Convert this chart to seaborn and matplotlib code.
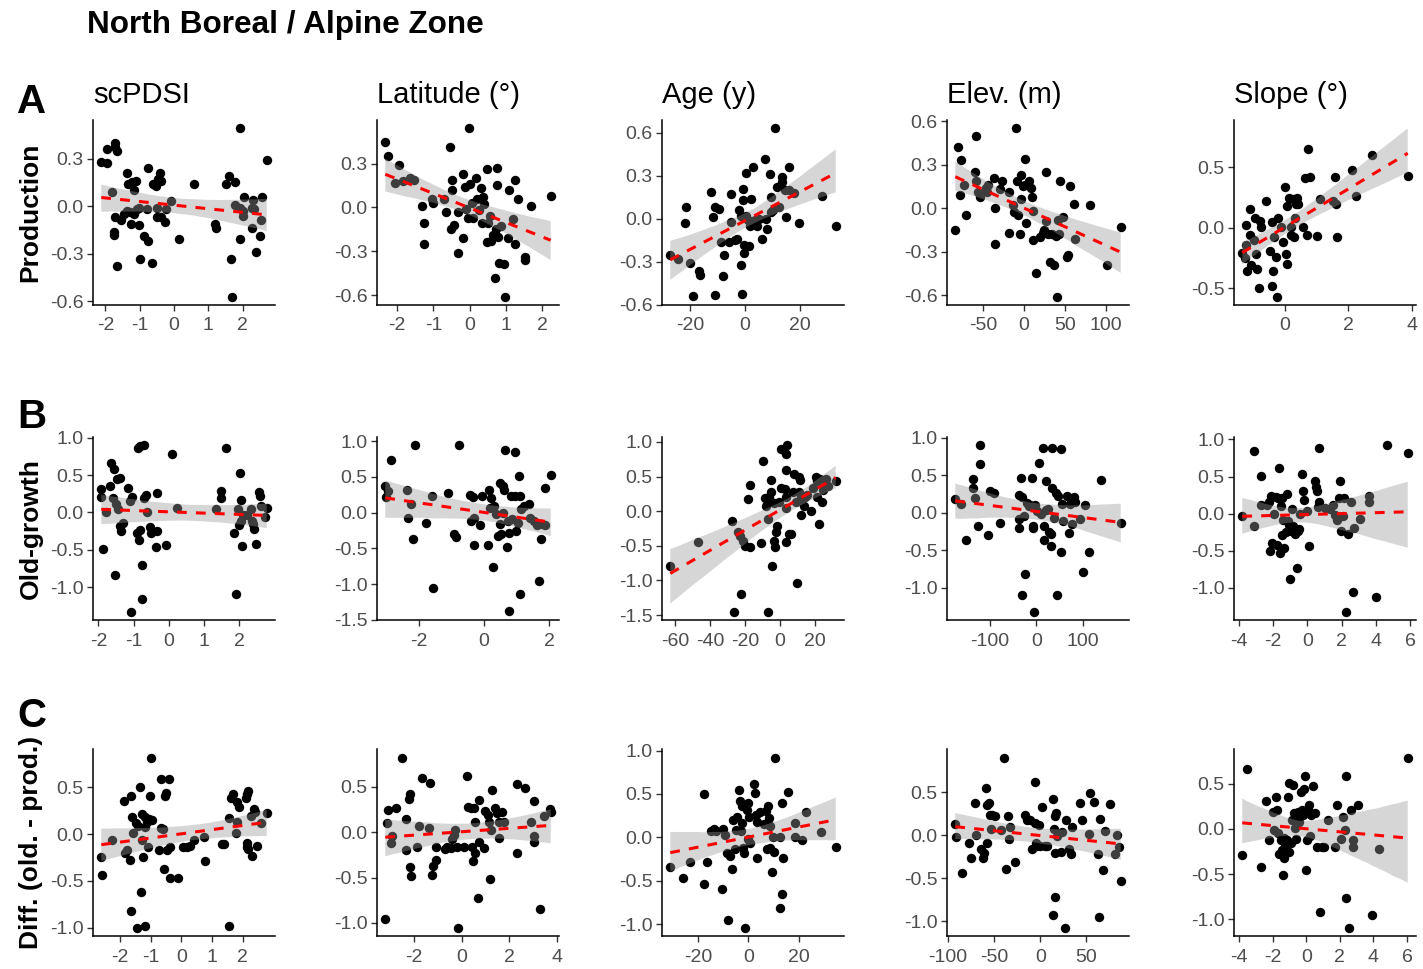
import sys
import numpy as np
import pandas as pd
import matplotlib
matplotlib.use("Agg")
import matplotlib.pyplot as plt
import seaborn as sns

# ------------------------------------------------------------------ data
# Row A: Production
prod_pdsi_x = [-2.12,-1.94,-1.96,-1.72,-1.71,-1.67,-1.80,-1.73,-1.75,-1.76,-1.67,-1.54,-1.47,-1.38,-1.33,-1.22,-1.10,-1.17,-1.38,-1.28,-1.25,-1.17,-1.01,-1.07,-1.01,-0.98,-0.88,-0.77,-0.80,-0.75,-0.64,-0.61,-0.54,-0.46,-0.41,-0.37,-0.51,-0.38,-0.49,-0.27,-0.22,-0.08,0.15,0.59,1.18,1.22,1.50,1.61,1.65,1.68,1.78,1.78,1.91,1.92,1.92,2.00,2.00,2.03,2.26,2.31,2.34,2.40,2.49,2.52,2.56,2.70,2.28]
prod_pdsi_y = [0.28,0.27,0.36,0.40,0.37,0.35,0.09,-0.07,-0.16,-0.18,-0.38,-0.09,-0.05,0.21,0.14,0.15,0.16,0.10,-0.03,-0.04,-0.11,-0.05,-0.01,-0.02,-0.12,-0.33,-0.19,-0.22,-0.02,0.24,-0.36,0.14,0.13,0.17,0.21,0.16,-0.07,-0.07,-0.01,-0.10,-0.02,0.03,-0.21,0.14,-0.11,-0.14,0.14,0.19,-0.33,-0.57,0.15,0.01,-0.01,0.49,-0.21,-0.03,-0.06,0.06,-0.14,0.04,-0.02,-0.29,-0.19,-0.09,0.06,0.29,-0.01]

prod_lat_x = [-2.33,-2.25,-2.05,-1.96,-1.83,-1.65,-1.53,-1.31,-1.26,-1.25,-1.05,-1.01,-0.71,-0.65,-0.53,-0.48,-0.48,-0.51,-0.43,-0.31,-0.31,-0.18,-0.17,-0.13,-0.11,-0.05,-0.01,0.02,0.07,0.09,0.17,0.19,0.25,0.32,0.34,0.37,0.40,0.47,0.47,0.57,0.59,0.69,0.72,0.75,0.75,0.79,0.82,0.87,0.95,0.97,1.07,1.10,1.19,1.24,1.24,1.34,1.52,1.52,1.69,2.24,0.52,0.64]
prod_lat_y = [0.45,0.35,0.17,0.29,0.18,0.20,0.19,0.01,-0.11,-0.25,0.06,0.03,0.06,-0.03,0.41,0.19,0.12,-0.15,-0.12,-0.31,-0.03,0.23,-0.21,0.14,-0.01,-0.07,0.54,0.16,0.03,-0.07,0.20,0.06,-0.02,0.13,-0.11,0.07,0.02,0.26,-0.24,-0.06,-0.23,-0.48,-0.15,0.27,0.15,-0.20,-0.38,-0.13,-0.39,-0.61,-0.21,0.12,-0.08,0.19,-0.25,0.06,-0.34,-0.36,0.01,0.08,-0.11,-0.19]

prod_age_x = [-27.1,-24.4,-21.8,-21.3,-20.0,-19.0,-16.6,-16.4,-12.5,-11.5,-10.8,-11.0,-9.5,-8.6,-7.6,-8.0,-5.7,-5.2,-5.0,-3.7,-2.8,-2.2,-1.5,-1.2,-1.3,-0.9,-0.6,-0.5,-0.3,0.4,0.4,1.0,1.3,1.7,2.3,3.0,3.6,4.3,4.9,6.2,7.1,7.9,7.5,9.2,9.4,10.1,10.7,11.7,12.3,13.3,13.5,14.6,15.0,15.9,16.1,17.8,19.7,28.1,32.9,9.4]
prod_age_y = [-0.25,-0.28,-0.03,0.08,-0.31,-0.54,-0.36,-0.39,0.19,0.01,0.08,-0.53,0.07,-0.16,-0.25,-0.40,-0.16,0.17,-0.02,-0.15,-0.14,0.06,-0.32,-0.52,0.02,0.21,0.13,-0.18,-0.24,0.32,0.02,-0.01,-0.19,-0.05,0.14,0.36,-0.01,-0.05,0.00,-0.14,0.42,-0.07,0.00,0.31,0.15,0.06,0.63,0.22,0.08,0.29,0.26,0.20,0.01,0.36,0.20,0.18,-0.03,0.16,-0.05,0.05]

prod_elev_x = [-83.7,-79.8,-78.5,-77.2,-73.2,-71.1,-59.7,-58.0,-58.9,-55.8,-53.6,-46.6,-43.6,-44.9,-36.2,-35.7,-35.7,-29.6,-26.2,-18.3,-18.3,-13.1,-11.8,-10.0,-7.8,-6.5,-4.4,-3.1,-3.1,-1.3,1.3,1.3,3.1,6.5,8.7,10.0,10.9,11.8,15.3,19.6,24.0,24.8,27.5,27.5,29.2,31.8,34.0,37.1,39.2,40.5,43.6,44.9,48.0,52.3,53.6,56.7,61.0,62.3,80.6,102.4,118.6,41.4]
prod_elev_y = [-0.15,0.42,0.09,0.33,0.16,-0.05,0.25,0.50,0.19,0.11,0.08,0.14,0.16,0.11,0.21,0.00,-0.25,0.13,0.19,0.11,-0.17,0.02,-0.03,0.55,0.19,-0.05,-0.18,0.06,0.23,0.15,0.34,0.16,-0.10,0.19,0.14,0.08,-0.02,-0.22,-0.45,-0.20,-0.17,-0.15,0.25,-0.09,-0.18,-0.37,-0.18,-0.39,-0.19,-0.61,-0.18,0.19,-0.06,-0.34,-0.32,0.15,0.03,-0.21,0.02,-0.39,-0.13,-0.08]

prod_slope_x = [-1.35,-1.27,-1.22,-1.23,-1.20,-1.12,-1.09,-1.06,-0.99,-0.94,-0.92,-0.89,-0.81,-0.78,-0.75,-0.61,-0.47,-0.40,-0.37,-0.34,-0.42,-0.27,-0.24,-0.21,-0.14,-0.06,0.00,0.04,0.06,0.06,0.14,0.20,0.20,0.25,0.28,0.32,0.35,0.38,0.42,0.56,0.63,0.69,0.73,0.79,1.00,1.12,1.51,1.59,1.66,2.13,2.26,2.75,3.88,1.60]
prod_slope_y = [-0.21,-0.25,0.02,-0.14,-0.36,0.16,-0.06,-0.31,-0.10,0.08,-0.22,-0.34,-0.50,0.06,0.01,0.22,-0.19,0.05,-0.36,-0.08,-0.48,-0.24,-0.57,0.08,0.01,-0.12,0.34,-0.22,-0.30,0.18,0.25,-0.06,0.01,0.24,-0.08,0.08,0.20,0.25,0.20,0.01,0.41,-0.06,0.65,0.42,-0.07,0.24,0.22,0.42,-0.08,0.48,0.26,0.60,0.43,0.20]

# Row B: Old-growth
old_pdsi_x = [-1.92,-1.92,-1.86,-1.78,-1.68,-1.63,-1.60,-1.56,-1.53,-1.50,-1.46,-1.38,-1.44,-1.38,-1.35,-1.30,-1.17,-1.09,-1.07,-1.05,-0.89,-0.81,-0.71,-0.91,-0.86,-0.81,-0.76,-0.76,-0.71,-0.65,-0.63,-0.55,-0.50,-0.37,-0.33,-0.33,-0.09,0.09,0.24,1.34,1.48,1.48,1.63,1.86,1.91,1.96,1.99,2.01,2.04,2.09,2.11,2.22,2.32,2.39,2.42,2.47,2.55,2.58,2.63,2.73,2.78,2.35,2.06]
old_pdsi_y = [0.31,0.21,-0.49,0.00,0.36,0.66,0.20,0.58,-0.84,0.12,0.45,0.46,0.04,-0.18,-0.25,-0.14,0.33,0.16,-1.33,0.21,0.87,0.89,0.90,-0.28,-0.37,-0.24,-0.71,-1.16,0.20,0.24,0.01,-0.20,-0.28,-0.46,-0.25,0.26,-0.43,0.78,0.06,0.04,0.29,0.19,0.87,-0.28,-1.09,0.04,-0.17,0.53,0.17,-0.45,-0.03,-0.04,0.04,-0.16,-0.22,-0.42,0.27,0.22,0.08,-0.06,0.06,-0.12,-0.11]

old_lat_x = [-3.03,-3.01,-2.95,-2.86,-2.36,-2.32,-2.23,-2.18,-2.12,-1.77,-1.59,-1.57,-1.10,-0.91,-0.85,-0.77,-0.44,-0.39,-0.35,-0.32,-0.30,-0.13,-0.08,0.11,0.14,0.17,0.20,0.28,0.31,0.36,0.42,0.48,0.48,0.51,0.59,0.59,0.62,0.64,0.70,0.72,0.75,0.77,0.81,0.86,0.94,0.95,0.97,1.03,1.06,1.10,1.10,1.14,1.22,1.36,1.41,1.52,1.61,1.69,1.75,1.78,1.86,1.86,2.04]
old_lat_y = [0.37,0.22,0.30,0.74,0.32,-0.07,0.12,-0.37,0.94,-0.14,0.23,-1.05,0.28,-0.30,-0.34,0.94,0.25,-0.12,0.22,-0.45,-0.07,-0.18,0.23,-0.45,0.32,0.07,0.20,-0.76,0.09,-0.02,-0.32,0.42,-0.16,-0.30,0.37,0.00,0.31,0.87,-0.48,-0.12,-1.38,-0.29,0.23,-0.09,0.84,0.23,-0.25,-0.14,0.51,-1.14,0.23,0.05,0.09,0.12,-0.07,-0.12,-0.18,-0.96,-0.37,-0.16,0.35,-0.18,0.53]

old_age_x = [-62.8,-46.8,-27.4,-26.4,-24.0,-23.1,-22.5,-21.2,-19.9,-18.4,-17.4,-17.0,-10.9,-9.9,-8.6,-8.1,-7.1,-7.1,-6.2,-5.6,-5.2,-4.9,-4.3,-3.7,-3.4,-3.0,-2.4,-1.5,-0.6,0.4,0.7,2.2,2.6,3.2,3.7,4.1,3.6,3.2,3.7,5.1,6.4,7.5,8.2,9.4,9.7,11.1,11.6,10.7,12.0,13.5,14.4,15.4,17.6,19.1,20.6,21.0,21.4,22.5,23.8,24.4,26.6,27.5,31.9,12.0,22.9]
old_age_y = [-0.79,-0.44,-0.14,-1.45,-0.30,-0.36,-1.20,-0.43,-0.50,0.18,-0.51,0.38,-0.46,0.73,0.19,0.07,-0.11,-1.45,0.21,0.14,0.45,0.28,-0.79,0.12,-0.43,-0.51,-0.30,-0.22,0.13,0.33,0.90,0.88,0.32,0.83,0.21,0.95,0.59,-0.44,0.05,-0.33,-0.33,0.28,0.54,0.13,-1.03,0.50,0.45,0.28,-0.05,0.07,0.20,0.24,0.00,0.33,0.50,0.43,0.21,-0.19,0.13,0.31,0.47,0.36,0.43,0.19,0.47]

old_elev_x = [-174,-162,-151,-137,-135,-131,-126,-121,-121,-103,-99,-90,-79,-38,-37,-37,-32,-31,-31,-27,-24,-21,-15,-14,-9,-8,-8,-6,-2,2,5,11,14,17,17,21,21,24,27,31,31,34,34,38,42,44,47,52,53,55,57,65,69,73,76,76,80,82,93,99,105,112,139,181]
old_elev_y = [0.18,0.12,-0.37,0.45,0.33,0.20,-0.17,0.90,0.65,-0.30,0.29,0.26,-0.13,0.24,-0.08,-0.20,0.46,0.21,-1.10,-0.04,-0.82,0.13,0.09,0.10,0.46,-0.17,-0.20,-1.32,0.11,0.03,0.66,-0.01,0.87,-0.17,-0.37,0.42,0.04,0.05,-0.26,-0.45,-0.28,0.87,0.33,-0.07,0.26,-1.10,0.23,0.85,-0.52,0.12,-0.11,0.23,-0.27,0.12,0.18,-0.15,0.21,0.15,-0.08,-0.79,0.11,-0.52,0.44,-0.13]

old_slope_x = [-3.79,-3.10,-3.10,-2.72,-2.72,-2.34,-2.25,-2.15,-2.11,-2.08,-1.96,-1.83,-1.77,-1.70,-1.64,-1.60,-1.54,-1.50,-1.45,-1.41,-1.35,-1.26,-1.16,-1.12,-1.07,-1.01,-0.93,-0.88,-0.82,-0.78,-0.69,-0.63,-0.55,-0.50,-0.44,-0.30,-0.25,-0.17,0.00,0.08,0.46,0.51,0.59,0.65,0.69,0.70,1.03,1.31,1.50,1.60,1.73,1.85,1.92,1.98,2.08,2.11,2.23,2.36,2.55,2.65,2.74,3.07,3.60,3.60,3.98,4.65,5.85]
old_slope_y = [-0.03,0.84,-0.17,0.51,0.11,0.12,0.16,-0.50,0.24,-0.40,0.00,0.22,-0.42,0.21,0.62,-0.53,0.10,-0.29,0.21,-0.08,-0.46,-0.25,0.27,-0.10,-0.15,-0.88,-0.24,0.06,-0.16,-0.20,-0.27,-0.73,-0.24,-0.21,-0.01,0.53,0.31,0.18,0.04,-0.44,0.44,0.36,0.30,0.09,0.88,0.16,0.08,0.06,0.11,-0.02,-0.08,0.21,0.44,-0.24,-0.03,0.21,-1.32,-0.28,0.16,-1.05,-0.19,-0.07,0.24,0.16,-1.12,0.92,0.81]

# Row C: Difference (old-growth - production)
diff_pdsi_x = [-2.61,-2.60,-2.27,-1.87,-1.85,-1.76,-1.65,-1.68,-1.65,-1.60,-1.57,-1.49,-1.46,-1.42,-1.35,-1.31,-1.28,-1.28,-1.24,-1.20,-1.17,-1.17,-1.11,-1.09,-1.06,-1.01,-0.98,-0.95,-0.74,-0.68,-0.66,-0.59,-0.57,-0.52,-0.50,-0.46,-0.41,-0.36,-0.36,-0.12,0.05,0.18,0.27,0.40,0.75,0.78,1.32,1.39,1.54,1.54,1.61,1.68,1.78,1.82,1.82,1.88,2.11,2.15,2.18,2.13,2.15,2.18,2.26,2.29,2.37,2.40,2.45,2.58,2.78]
diff_pdsi_y = [-0.24,-0.44,-0.06,0.35,-0.20,-0.17,0.41,-0.28,-0.82,0.18,0.01,0.12,-1.00,0.09,0.50,-0.62,0.22,-0.06,-0.24,0.18,-0.98,0.08,0.13,-0.14,0.16,0.41,0.82,0.15,-0.17,0.59,0.07,0.05,-0.37,0.41,0.44,-0.17,0.59,-0.14,-0.47,-0.47,-0.14,-0.14,-0.13,-0.06,-0.03,-0.29,-0.11,-0.11,0.17,-0.98,0.39,0.43,0.01,0.13,0.34,0.29,0.39,0.43,0.46,-0.09,-0.14,-0.16,0.19,-0.23,0.27,0.24,-0.13,0.12,0.23]

diff_lat_x = [-3.19,-3.11,-3.07,-2.96,-2.89,-2.74,-2.47,-2.32,-2.32,-2.21,-2.17,-2.14,-2.11,-1.86,-1.80,-1.65,-1.38,-1.31,-1.23,-1.20,-1.08,-1.08,-0.71,-0.60,-0.45,-0.41,-0.30,-0.26,-0.15,-0.21,0.12,0.24,0.27,0.39,0.42,0.50,0.54,0.57,0.57,0.69,0.72,0.75,0.95,0.99,1.10,1.14,1.17,1.25,1.29,1.40,1.50,1.55,1.55,1.70,1.77,2.30,2.30,2.65,2.90,3.01,3.05,3.05,3.28,3.43,3.70,3.73]
diff_lat_y = [-0.96,0.10,0.24,-0.12,-0.04,0.26,0.82,0.14,-0.20,0.36,0.42,-0.38,-0.48,-0.16,0.07,0.59,0.04,0.54,-0.47,-0.37,-0.31,-0.16,-0.19,-0.16,-0.18,-0.08,-0.03,0.02,-1.05,-0.16,-0.16,0.62,0.28,0.27,-0.16,-0.32,0.26,0.11,-0.23,-0.72,0.35,-0.11,-0.17,0.23,0.19,0.11,-0.52,0.02,0.46,0.26,0.21,0.11,-0.06,0.22,0.11,0.53,-0.23,0.49,0.11,-0.04,0.34,-0.11,-0.85,0.18,0.25,0.22]

diff_age_x = [-31.2,-26.2,-23.4,-17.7,-17.7,-16.6,-14.9,-13.8,-13.0,-10.6,-10.2,-9.5,-8.4,-8.1,-7.4,-6.7,-6.0,-5.5,-5.0,-4.5,-3.8,-3.5,-3.1,-2.7,-2.4,-2.1,-1.7,-1.3,-0.7,-0.3,-0.3,0.4,0.7,2.1,2.6,3.0,3.3,3.5,4.4,6.1,6.8,7.5,7.8,8.2,8.7,9.2,9.6,10.1,10.6,12.5,12.5,13.2,13.5,13.9,15.7,18.6,18.6,21.4,23.1,29.1,34.8,8.5]
diff_age_y = [-0.34,-0.47,-0.29,0.50,-0.54,-0.29,0.07,0.10,0.07,-0.60,0.10,0.03,-0.18,-0.95,-0.22,-0.37,0.20,-0.14,0.08,0.23,0.54,0.42,0.07,0.17,0.36,-0.12,-0.18,-1.04,0.31,0.40,-0.02,0.23,-0.07,0.62,0.51,0.26,0.18,-0.24,0.29,0.15,0.30,-0.14,0.36,0.22,-0.12,-0.40,0.00,-0.17,0.92,0.00,-0.81,0.40,-0.65,-0.24,0.52,0.16,0.00,-0.03,0.29,0.06,-0.11,0.13]

diff_elev_x = [-92.2,-91.1,-84.5,-77.5,-75.6,-70.5,-69.8,-64.0,-62.0,-61.2,-58.9,-58.1,-57.4,-55.4,-54.3,-52.3,-49.6,-53.5,-42.6,-39.5,-36.8,-34.9,-34.1,-32.9,-27.9,-16.3,-14.7,-10.9,-8.5,-5.8,-5.8,-4.7,-3.1,-1.9,0.0,1.9,4.7,7.8,13.6,14.3,14.7,15.5,15.5,16.3,17.4,18.6,22.5,24.0,26.4,27.9,31.0,32.9,34.9,42.6,45.7,52.3,54.3,58.1,62.8,64.0,65.1,67.8,70.5,75.6,80.6,83.3,85.3,87.2]
diff_elev_y = [0.13,-0.02,-0.44,-0.09,-0.27,0.37,0.00,-0.16,-0.26,-0.21,0.55,0.35,-0.09,0.37,0.23,0.23,0.22,0.07,0.06,0.90,-0.39,0.22,-0.04,0.09,-0.31,0.23,0.18,0.17,-0.16,0.62,0.14,-0.09,-0.12,0.12,-0.12,0.33,-0.12,-0.12,0.42,-0.92,0.07,0.22,-0.72,-0.21,0.26,-0.01,-0.19,0.04,-1.07,0.17,-0.16,-0.22,0.09,0.37,0.17,0.01,0.49,0.38,-0.22,-0.95,0.19,-0.40,0.05,0.36,-0.22,0.00,-0.14,-0.53]

diff_slope_x = [-3.82,-3.51,-2.73,-2.40,-2.20,-2.01,-1.91,-1.81,-1.75,-1.72,-1.62,-1.52,-1.48,-1.42,-1.36,-1.33,-1.29,-1.17,-1.09,-1.03,-1.03,-0.94,-0.84,-0.78,-0.74,-0.70,-0.64,-0.58,-0.51,-0.45,-0.31,-0.25,-0.19,-0.12,-0.06,0.00,0.04,0.08,0.14,0.19,0.27,0.39,0.53,0.66,0.82,0.92,1.05,1.31,1.70,1.83,2.09,2.18,2.28,2.38,2.38,2.57,2.67,2.77,2.77,3.06,3.90,4.33,6.04]
diff_slope_y = [-0.29,0.66,-0.42,0.31,-0.12,0.19,-0.01,0.35,0.21,-0.05,-0.28,-0.12,-0.23,-0.51,-0.10,-0.32,-0.19,-0.12,0.35,0.51,-0.26,-0.16,0.10,0.49,0.18,0.01,-0.11,0.14,0.19,0.08,0.41,0.21,0.15,0.44,0.58,-0.45,-0.12,0.21,0.27,-0.08,0.15,0.47,0.18,-0.20,-0.92,-0.20,-0.20,0.10,-0.20,0.26,-0.11,0.13,-0.01,0.59,-0.76,-1.09,0.21,-0.12,-0.20,0.26,-0.95,-0.22,0.79]

# Labels and tick breaks
title_text = "North Boreal / Alpine Zone"
row_letters = ["A", "B", "C"]
row_names = ["Production", "Old-growth", "Diff. (old. - prod.)"]
col_names = ["scPDSI", "Latitude (°)", "Age (y)", "Elev. (m)", "Slope (°)"]

x_breaks = [
    [[-2, -1, 0, 1, 2], [-2, -1, 0, 1, 2], [-20, 0, 20], [-50, 0, 50, 100], [0, 2, 4]],
    [[-2, -1, 0, 1, 2], [-2, 0, 2], [-60, -40, -20, 0, 20], [-100, 0, 100], [-4, -2, 0, 2, 4, 6]],
    [[-2, -1, 0, 1, 2], [-2, 0, 2, 4], [-20, 0, 20], [-100, -50, 0, 50], [-4, -2, 0, 2, 4, 6]],
]
y_breaks = [
    [[-0.6, -0.3, 0.0, 0.3], [-0.6, -0.3, 0.0, 0.3], [-0.6, -0.3, 0.0, 0.3, 0.6],
     [-0.6, -0.3, 0.0, 0.3, 0.6], [-0.5, 0.0, 0.5]],
    [[-1.0, -0.5, 0.0, 0.5, 1.0], [-1.5, -1.0, -0.5, 0.0, 0.5, 1.0], [-1.5, -1.0, -0.5, 0.0, 0.5, 1.0],
     [-1.0, -0.5, 0.0, 0.5, 1.0], [-1.0, -0.5, 0.0, 0.5, 1.0]],
    [[-1.0, -0.5, 0.0, 0.5], [-1.0, -0.5, 0.0, 0.5], [-1.0, -0.5, 0.0, 0.5, 1.0],
     [-1.0, -0.5, 0.0, 0.5], [-1.0, -0.5, 0.0, 0.5]],
]

panels = [
    [(prod_pdsi_x, prod_pdsi_y), (prod_lat_x, prod_lat_y), (prod_age_x, prod_age_y),
     (prod_elev_x, prod_elev_y), (prod_slope_x, prod_slope_y)],
    [(old_pdsi_x, old_pdsi_y), (old_lat_x, old_lat_y), (old_age_x, old_age_y),
     (old_elev_x, old_elev_y), (old_slope_x, old_slope_y)],
    [(diff_pdsi_x, diff_pdsi_y), (diff_lat_x, diff_lat_y), (diff_age_x, diff_age_y),
     (diff_elev_x, diff_elev_y), (diff_slope_x, diff_slope_y)],
]

# ------------------------------------------------------------------ style
sns.set_theme(style="ticks")
plt.rcParams["font.family"] = ["Liberation Sans", "DejaVu Sans"]
plt.rcParams["axes.unicode_minus"] = False

W, H = 1423, 969
fig = plt.figure(figsize=(W / 100, H / 100), dpi=100)

col_left = [93, 377, 662, 947, 1234]
col_w = 182
row_top = [120, 437, 749]
row_bot = [305, 620, 936]
letter_base = [113, 428, 727]

TICK_GREY = "#4D4D4D"

for r in range(3):
    for c in range(5):
        x, y = panels[r][c]
        n = min(len(x), len(y))
        if len(x) != len(y):
            print(f"length mismatch r{r} c{c}: {len(x)} vs {len(y)}", file=sys.stderr)
        df = pd.DataFrame({"x": x[:n], "y": y[:n]})

        ax = fig.add_axes([col_left[c] / W, 1 - row_bot[r] / H,
                           col_w / W, (row_bot[r] - row_top[r]) / H])

        sns.scatterplot(data=df, x="x", y="y", ax=ax, color="black", s=46,
                        linewidth=0, zorder=2, legend=False)
        n0 = len(ax.collections)
        sns.regplot(data=df, x="x", y="y", ax=ax, scatter=False, ci=95,
                    n_boot=2000, seed=11, truncate=True,
                    line_kws=dict(color="red", lw=2.2, ls=(0, (3.2, 3.0)), zorder=4))
        band = ax.collections[n0]
        band.set_facecolor("#999999")
        band.set_alpha(0.4)
        band.set_edgecolor("none")
        band.set_zorder(3)

        # ggplot-like limits: data (and ribbon) range expanded by 5 %
        xmin, xmax = df["x"].min(), df["x"].max()
        px = 0.05 * (xmax - xmin)
        ax.set_xlim(xmin - px, xmax + px)
        bv = band.get_paths()[0].vertices[:, 1]
        ymin = min(df["y"].min(), np.nanmin(bv))
        ymax = max(df["y"].max(), np.nanmax(bv))
        py = 0.05 * (ymax - ymin)
        ax.set_ylim(ymin - py, ymax + py)

        xb = x_breaks[r][c]
        yb = y_breaks[r][c]
        ax.set_xticks(xb)
        ax.set_xticklabels([f"{v:g}" for v in xb])
        ax.set_yticks(yb)
        ax.set_yticklabels([f"{v:.1f}" for v in yb])

        sns.despine(ax=ax)
        for side in ("left", "bottom"):
            ax.spines[side].set_color("black")
            ax.spines[side].set_linewidth(1.1)
        ax.tick_params(axis="both", length=4, width=1, color="#333333",
                       labelcolor=TICK_GREY, labelsize=14)
        ax.tick_params(axis="x", pad=5)
        ax.tick_params(axis="y", pad=3)
        ax.set_xlabel("")
        if c == 0:
            ax.set_ylabel(row_names[r], fontsize=19, fontweight="bold",
                          color="black", labelpad=5)
        else:
            ax.set_ylabel("")
        if r == 0:
            ax.set_title(col_names[c], loc="left", fontsize=21, pad=12, color="black")

fig.text(87 / W, 1 - 33 / H, title_text, fontsize=22.7, fontweight="bold",
         ha="left", va="baseline", color="black")
for r in range(3):
    fig.text(17 / W, 1 - letter_base[r] / H, row_letters[r], fontsize=29,
             fontweight="bold", ha="left", va="baseline", color="black")

fig.savefig("out.png", dpi=100)
